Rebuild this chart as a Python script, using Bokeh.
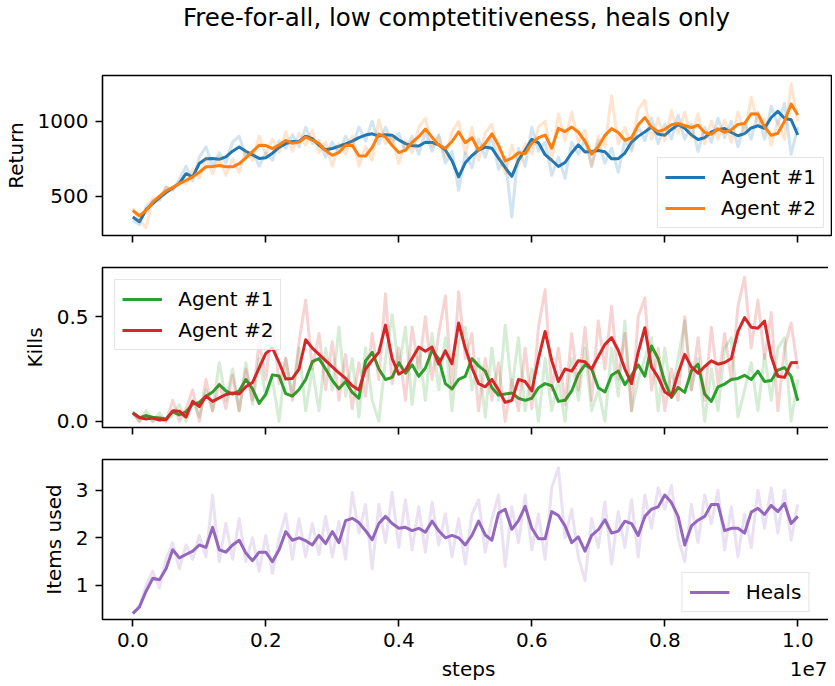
import numpy as np
from bokeh.plotting import figure
from bokeh.layouts import column
from bokeh.models import (Range1d, FixedTicker, CustomJSTickFormatter, Legend,
                          LegendItem, Label, CustomLabelingPolicy)
from bokeh.embed import file_html
from bokeh.resources import INLINE

FONT = "DejaVu Sans"
TITLE = "Free-for-all, low comptetitiveness, heals only"

# evaluation steps (0 .. 1e7, every 1e5)
steps = np.linspace(0, 1.0e7, 101)

# ---------------- Return ----------------
return_agent1 = [361, 330, 410, 450, 490, 525, 555, 585, 650, 629,
                 718, 750, 752, 746, 762, 800, 828, 800, 776, 752,
                 757, 787, 826, 851, 865, 865, 900, 884, 840, 810,
                 818, 833, 849, 867, 891, 908, 916, 901, 910, 906,
                 875, 851, 836, 835, 860, 858, 843, 808, 737, 629,
                 723, 771, 808, 828, 820, 754, 690, 632, 741, 808,
                 880, 856, 777, 740, 698, 725, 790, 843, 795, 798,
                 805, 797, 749, 750, 788, 861, 899, 929, 961, 914,
                 907, 945, 977, 953, 909, 878, 890, 929, 943, 951,
                 925, 903, 917, 955, 970, 953, 1025, 1066, 1020, 1010,
                 909]
return_agent1_raw = [340, 310, 430, 470, 470, 560, 540, 610, 700, 600,
                     760, 830, 700, 790, 720, 860, 900, 760, 800, 700,
                     790, 740, 870, 820, 910, 830, 960, 850, 870, 760,
                     860, 790, 900, 830, 960, 870, 1000, 850, 960, 860,
                     920, 800, 900, 780, 930, 800, 910, 720, 800, 540,
                     790, 690, 880, 760, 900, 680, 760, 360, 820, 700,
                     960, 800, 860, 640, 760, 620, 860, 780, 880, 700,
                     870, 720, 820, 660, 870, 800, 970, 870, 1020, 850,
                     980, 880, 1040, 880, 980, 800, 960, 860, 1020, 890,
                     1000, 830, 990, 880, 1060, 880, 1100, 980, 1120, 780,
                     960]
return_agent2 = [405, 370, 405, 460, 500, 535, 559, 583, 605, 629,
                 660, 696, 698, 705, 696, 696, 717, 756, 798, 840,
                 838, 817, 841, 872, 853, 861, 895, 874, 852, 804,
                 773, 792, 840, 839, 770, 768, 826, 914, 895, 838,
                 791, 807, 860, 897, 948, 894, 840, 819, 865, 929,
                 857, 890, 808, 852, 916, 840, 735, 754, 790, 783,
                 854, 890, 908, 820, 953, 931, 961, 928, 865, 781,
                 830, 906, 951, 925, 873, 890, 976, 1025, 960, 931,
                 946, 977, 985, 970, 958, 973, 925, 913, 950, 926,
                 944, 978, 985, 1050, 1049, 962, 906, 920, 1000, 1115,
                 1042]
return_agent2_raw = [420, 340, 290, 490, 480, 560, 540, 600, 580, 680,
                     620, 760, 650, 760, 640, 750, 660, 800, 740, 900,
                     780, 880, 790, 930, 800, 920, 840, 940, 790, 860,
                     700, 850, 780, 900, 700, 830, 740, 1010, 850, 900,
                     720, 870, 790, 960, 1020, 830, 900, 760, 930, 1000,
                     780, 960, 740, 920, 980, 780, 650, 840, 700, 850,
                     780, 960, 1000, 740, 1050, 870, 1060, 860, 940, 700,
                     900, 830, 1170, 850, 960, 820, 1080, 1140, 880, 1020,
                     870, 1070, 920, 1060, 890, 1050, 850, 1000, 880, 1010,
                     860, 1060, 920, 1160, 980, 1020, 840, 1000, 880, 1250,
                     1000]

# ---------------- Kills ----------------
kills_agent1 = [0.042, 0.017, 0.027, 0.019, 0.015, 0.011, 0.045, 0.030, 0.045, 0.082,
                0.090, 0.120, 0.140, 0.175, 0.145, 0.130, 0.146, 0.200, 0.155, 0.085,
                0.130, 0.222, 0.217, 0.132, 0.120, 0.152, 0.200, 0.285, 0.300, 0.250,
                0.195, 0.155, 0.190, 0.138, 0.110, 0.289, 0.330, 0.250, 0.200, 0.210,
                0.281, 0.230, 0.270, 0.215, 0.255, 0.340, 0.300, 0.180, 0.155, 0.200,
                0.215, 0.300, 0.265, 0.240, 0.160, 0.125, 0.130, 0.135, 0.110, 0.100,
                0.110, 0.160, 0.180, 0.170, 0.095, 0.100, 0.145, 0.225, 0.270, 0.250,
                0.160, 0.140, 0.220, 0.240, 0.175, 0.220, 0.270, 0.215, 0.360, 0.300,
                0.190, 0.114, 0.162, 0.138, 0.241, 0.273, 0.130, 0.095, 0.165, 0.178,
                0.200, 0.205, 0.220, 0.200, 0.240, 0.190, 0.195, 0.245, 0.257, 0.215,
                0.098]
kills_agent1_raw = [0.04, 0.00, 0.05, 0.00, 0.04, 0.00, 0.03, 0.08, 0.00, 0.10,
                    0.02, 0.15, 0.05, 0.28, 0.10, 0.25, 0.05, 0.28, 0.08, 0.30,
                    0.12, 0.20, 0.00, 0.30, 0.12, 0.35, 0.05, 0.25, 0.05, 0.35,
                    0.15, 0.45, 0.12, 0.30, 0.02, 0.35, 0.10, 0.00, 0.30, 0.51,
                    0.25, 0.45, 0.08, 0.35, 0.10, 0.42, 0.15, 0.40, 0.05, 0.38,
                    0.45, 0.15, 0.30, 0.02, 0.35, 0.10, 0.46, 0.15, 0.40, 0.05,
                    0.25, 0.00, 0.30, 0.05, 0.20, 0.00, 0.30, 0.10, 0.35, 0.05,
                    0.15, 0.00, 0.35, 0.12, 0.48, 0.05, 0.20, 0.30, 0.40, 0.05,
                    0.35, 0.12, 0.30, 0.48, 0.15, 0.30, 0.00, 0.25, 0.05, 0.35,
                    0.40, 0.02, 0.15, 0.28, 0.05, 0.32, 0.10, 0.35, 0.40, 0.00,
                    0.20]
kills_agent2 = [0.038, 0.018, 0.011, 0.015, 0.006, 0.008, 0.050, 0.048, 0.020, 0.095,
                0.070, 0.120, 0.095, 0.112, 0.128, 0.135, 0.130, 0.165, 0.185, 0.255,
                0.325, 0.350, 0.281, 0.202, 0.205, 0.250, 0.390, 0.350, 0.320, 0.290,
                0.260, 0.232, 0.205, 0.170, 0.150, 0.250, 0.292, 0.330, 0.460, 0.300,
                0.225, 0.245, 0.300, 0.355, 0.335, 0.355, 0.273, 0.337, 0.275, 0.470,
                0.350, 0.255, 0.180, 0.165, 0.200, 0.150, 0.090, 0.100, 0.200, 0.190,
                0.145, 0.300, 0.430, 0.290, 0.190, 0.250, 0.240, 0.290, 0.285, 0.250,
                0.310, 0.368, 0.400, 0.340, 0.250, 0.180, 0.330, 0.448, 0.260, 0.210,
                0.140, 0.120, 0.230, 0.320, 0.260, 0.230, 0.262, 0.289, 0.273, 0.281,
                0.300, 0.430, 0.496, 0.450, 0.445, 0.480, 0.310, 0.215, 0.210, 0.280,
                0.281]
kills_agent2_raw = [0.04, 0.00, 0.03, 0.00, 0.02, 0.00, 0.10, 0.00, 0.06, 0.15,
                    0.00, 0.20, 0.05, 0.18, 0.06, 0.22, 0.05, 0.25, 0.10, 0.38,
                    0.20, 0.48, 0.18, 0.30, 0.10, 0.38, 0.58, 0.25, 0.42, 0.15,
                    0.38, 0.10, 0.32, 0.06, 0.28, 0.12, 0.42, 0.20, 0.61, 0.18,
                    0.35, 0.10, 0.45, 0.25, 0.50, 0.20, 0.42, 0.60, 0.15, 0.62,
                    0.30, 0.42, 0.05, 0.30, 0.10, 0.28, 0.00, 0.20, 0.05, 0.35,
                    0.06, 0.45, 0.63, 0.15, 0.35, 0.08, 0.42, 0.15, 0.45, 0.10,
                    0.48, 0.25, 0.55, 0.20, 0.42, 0.05, 0.50, 0.59, 0.15, 0.35,
                    0.05, 0.25, 0.10, 0.50, 0.15, 0.40, 0.10, 0.45, 0.18, 0.42,
                    0.20, 0.55, 0.69, 0.35, 0.58, 0.30, 0.52, 0.05, 0.35, 0.47,
                    0.25]

# ---------------- Items used ----------------
heals = [0.41, 0.55, 0.88, 1.15, 1.12, 1.35, 1.75, 1.58, 1.65, 1.72,
         1.85, 1.80, 2.22, 1.75, 1.70, 1.85, 1.95, 1.68, 1.52, 1.70,
         1.70, 1.50, 1.75, 2.13, 1.95, 2.00, 1.94, 1.85, 2.05, 1.88,
         2.13, 1.90, 2.36, 2.41, 2.32, 2.15, 1.96, 2.30, 2.45, 2.30,
         2.20, 2.22, 2.15, 2.20, 2.12, 2.35, 2.15, 2.00, 2.05, 2.00,
         1.85, 2.05, 2.35, 2.06, 1.95, 2.52, 2.60, 2.18, 2.36, 2.66,
         2.20, 1.98, 1.98, 2.55, 2.47, 2.25, 1.90, 2.02, 1.72, 2.05,
         2.17, 2.38, 2.10, 2.14, 2.35, 2.30, 2.05, 2.45, 2.60, 2.65,
         2.90, 2.74, 2.45, 1.85, 2.25, 2.37, 2.45, 2.70, 2.70, 2.15,
         2.20, 2.20, 2.10, 2.54, 2.62, 2.49, 2.68, 2.55, 2.72, 2.30,
         2.45]
heals_raw = [0.42, 0.55, 1.00, 1.30, 0.95, 1.55, 1.90, 1.35, 1.85, 1.55,
             2.05, 1.60, 2.90, 1.50, 2.30, 1.55, 2.40, 1.50, 2.00, 1.30,
             2.05, 1.25, 2.00, 2.50, 1.55, 2.40, 1.60, 2.30, 1.65, 2.45,
             1.60, 2.35, 1.55, 2.95, 2.10, 2.70, 1.35, 2.70, 1.90, 2.95,
             1.80, 2.80, 1.75, 2.65, 1.70, 2.75, 1.85, 2.50, 1.60, 2.40,
             1.45, 2.50, 2.80, 1.70, 2.40, 2.90, 1.40, 2.65, 1.90, 2.90,
             1.75, 2.50, 1.55, 3.05, 3.47, 2.00, 2.60, 1.60, 1.10, 2.40,
             1.80, 2.75, 1.45, 2.55, 1.80, 2.80, 1.60, 2.90, 2.20, 3.05,
             2.60, 3.10, 2.00, 1.50, 2.70, 1.90, 2.90, 2.30, 3.00, 1.75,
             2.65, 1.60, 2.50, 1.80, 3.00, 2.20, 3.05, 2.10, 3.00, 1.95,
             2.70]

x_ticks = [0, 2e6, 4e6, 6e6, 8e6, 1e7]
C_BLUE, C_ORANGE, C_GREEN, C_RED, C_PURPLE = "#1f77b4", "#ff7f0e", "#2ca02c", "#d62728", "#9467bd"

# ---- layout constants (pixels) ----
LEFT = 98            # space left of the plot frames
FRAME_W, FRAME_H = 729, 160
PX_PER_STEP = 665 / 1e7
X_START = -30.3 / PX_PER_STEP
X_END = X_START + FRAME_W / PX_PER_STEP
x_range = Range1d(X_START, X_END)


def x_at_px(px_from_frame_left):
    return X_START + px_from_frame_left / PX_PER_STEP


HIDE_ALL = CustomLabelingPolicy(code="""
const all = [];
for (const i of indices) all.push(i);
for (const i of all) indices.unset(i);
return indices;
""")


def text_strip(height):
    # a frame-only figure (no axes, aligned with the panels) used for free texts;
    # its y data units are pixels measured from the strip's bottom
    p = figure(frame_width=FRAME_W, frame_height=height, x_range=x_range,
               y_range=Range1d(0, height), x_axis_type=None, y_axis_type=None,
               output_backend="svg", toolbar_location=None, tools="", title=None,
               min_border_left=LEFT, min_border_right=1, min_border_top=0,
               min_border_bottom=0)
    p.outline_line_color = None
    p.grid.visible = False
    p.background_fill_color = "white"
    p.border_fill_color = "white"
    return p


def panel(yr, yticks, ylabel, top, bottom, last, yfmt=None):
    p = figure(frame_width=FRAME_W, frame_height=FRAME_H, x_range=x_range,
               y_range=Range1d(*yr), output_backend="svg", toolbar_location=None,
               tools="", title=None, min_border_left=LEFT, min_border_right=1,
               min_border_top=top, min_border_bottom=bottom)
    p.grid.visible = False
    p.outline_line_color = "black"
    p.outline_line_width = 1.6
    p.outline_line_alpha = 1.0
    p.background_fill_color = "white"
    p.border_fill_color = "white"
    for ax in (p.xaxis[0], p.yaxis[0]):
        ax.axis_line_color = None
        ax.major_tick_out = 7
        ax.major_tick_in = 0
        ax.major_tick_line_width = 1.6
        ax.major_tick_line_color = "black"
        ax.minor_tick_out = 0
        ax.minor_tick_in = 0
        ax.major_label_text_font = FONT
        ax.major_label_text_font_size = "20px"
        ax.major_label_text_color = "black"
        ax.major_label_standoff = 7
        ax.axis_label_text_font = FONT
        ax.axis_label_text_font_size = "20px"
        ax.axis_label_text_font_style = "normal"
        ax.axis_label_text_color = "black"
    p.yaxis[0].ticker = FixedTicker(ticks=yticks)
    if yfmt:
        p.yaxis[0].formatter = CustomJSTickFormatter(code=yfmt)
    p.yaxis[0].axis_label = ylabel
    p.yaxis[0].axis_label_standoff = 7
    p.xaxis[0].ticker = FixedTicker(ticks=x_ticks)
    p.xaxis[0].formatter = CustomJSTickFormatter(code="return (tick / 1e7).toFixed(1);")
    if last:
        p.xaxis[0].major_label_standoff = 6
    else:
        p.xaxis[0].major_label_text_font_size = "0px"
        p.xaxis[0].major_label_standoff = 0
        p.xaxis[0].major_label_policy = HIDE_ALL
    return p


def add_series(p, raw, smooth, color):
    p.line(steps, raw, line_width=3, line_color=color, line_alpha=0.2, line_join="round")
    return p.line(steps, smooth, line_width=3, line_color=color, line_join="round")


def add_legend(p, items, location, margin=7):
    lg = Legend(items=[LegendItem(label=l, renderers=[r]) for l, r in items],
                location=location, label_text_font=FONT, label_text_font_size="20px",
                label_text_color="black", glyph_width=40, glyph_height=20,
                label_height=20, label_standoff=16, spacing=7, padding=7, margin=margin,
                border_line_color="#cccccc", border_line_width=1.5,
                background_fill_color="white", background_fill_alpha=0.8)
    p.add_layout(lg)


# Title strip
TOP_H = 58
p0 = text_strip(TOP_H)
p0.add_layout(Label(x=x_at_px(354), y=TOP_H - 16.7, text=TITLE, text_align="center",
                    text_baseline="middle", text_font=FONT,
                    text_font_size="24.5px", text_color="black"))

# Panel 1: Return
Y1 = (238, 1305)
p1 = panel(Y1, [500, 1000], "Return", 17, 16, False)
r1 = add_series(p1, return_agent1_raw, return_agent1, C_BLUE)
r2 = add_series(p1, return_agent2_raw, return_agent2, C_ORANGE)
add_legend(p1, [("Agent #1", r1), ("Agent #2", r2)], "bottom_right")

# Panel 2: Kills
Y2 = (-0.030, 0.736)
p2 = panel(Y2, [0.0, 0.5], "Kills", 16, 16, False, yfmt="return tick.toFixed(1);")
k1 = add_series(p2, kills_agent1_raw, kills_agent1, C_GREEN)
k2 = add_series(p2, kills_agent2_raw, kills_agent2, C_RED)
add_legend(p2, [("Agent #1", k1), ("Agent #2", k2)], (26, 77))

# Panel 3: Items used
Y3 = (0.286, 3.644)
p3 = panel(Y3, [1, 2, 3], "Items used", 16, 37, True)
h1 = add_series(p3, heals_raw, heals, C_PURPLE)
add_legend(p3, [("Heals", h1)], "bottom_right")

# x-axis label strip ("steps" and the 1e7 offset)
BOT_H = 24
p4 = text_strip(BOT_H)
p4.add_layout(Label(x=x_at_px(366), y=12, text="steps", text_align="center",
                    text_baseline="middle", text_font=FONT,
                    text_font_size="20px", text_color="black"))
p4.add_layout(Label(x=x_at_px(FRAME_W - 4), y=12, text="1e7", text_align="right",
                    text_baseline="middle", text_font=FONT,
                    text_font_size="20px", text_color="black"))

layout = column(p0, p1, p2, p3, p4, spacing=0)
open("out.html", "w").write(file_html(layout, INLINE, title=TITLE))
